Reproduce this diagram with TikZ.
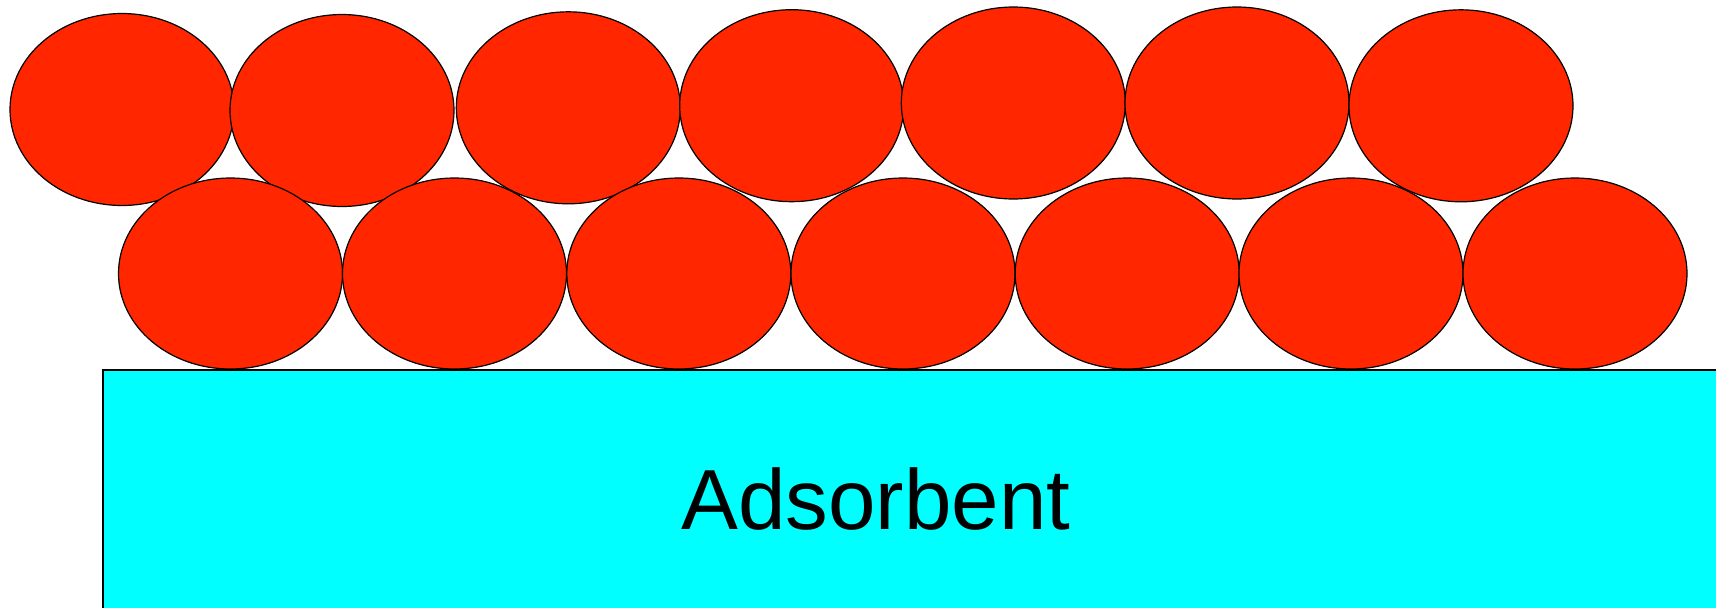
\documentclass[tikz,border=0pt]{standalone}
\usepackage{fontspec}
\setmainfont{Liberation Sans}
\usetikzlibrary{shapes.geometric}
\definecolor{ballred}{RGB}{255,38,0}
\definecolor{surfcyan}{RGB}{0,255,255}
\begin{document}
\begin{tikzpicture}[x=0.75pt,y=-0.75pt,
  molecule/.style={ellipse,draw=black,line width=0.9pt,fill=ballred,inner sep=0pt,
    minimum width=168pt,minimum height=144pt},
  lowmolecule/.style={molecule,minimum height=143.25pt},
  surface/.style={draw=black,line width=0.9pt,fill=surfcyan},
  label/.style={font=\fontsize{64}{64}\selectfont,text=black,inner sep=0pt}]
\useasboundingbox (0,0) rectangle (1716,607);
% adsorbent surface
\path[surface] (103,370) rectangle (1730,620);
\node[label,anchor=base] (adsorbent) at (876,529) {Adsorbent};
% top row
\node[molecule] (t1) at (122,109.5) {};
\node[molecule] (t2) at (342,110.5) {};
\node[molecule] (t3) at (568.3,107.8) {};
\node[molecule] (t4) at (791.7,105.7) {};
\node[molecule] (t5) at (1013.3,103) {};
\node[molecule] (t6) at (1237,103) {};
\node[molecule] (t7) at (1461,105.8) {};
% bottom row
\node[lowmolecule] (b1) at (230.5,273.5) {};
\node[lowmolecule] (b2) at (454.5,273.5) {};
\node[lowmolecule] (b3) at (678.8,273.5) {};
\node[lowmolecule] (b4) at (903,273.5) {};
\node[lowmolecule] (b5) at (1127.2,273.5) {};
\node[lowmolecule] (b6) at (1351,273.5) {};
\node[lowmolecule] (b7) at (1575,273.5) {};
\end{tikzpicture}
\end{document}
